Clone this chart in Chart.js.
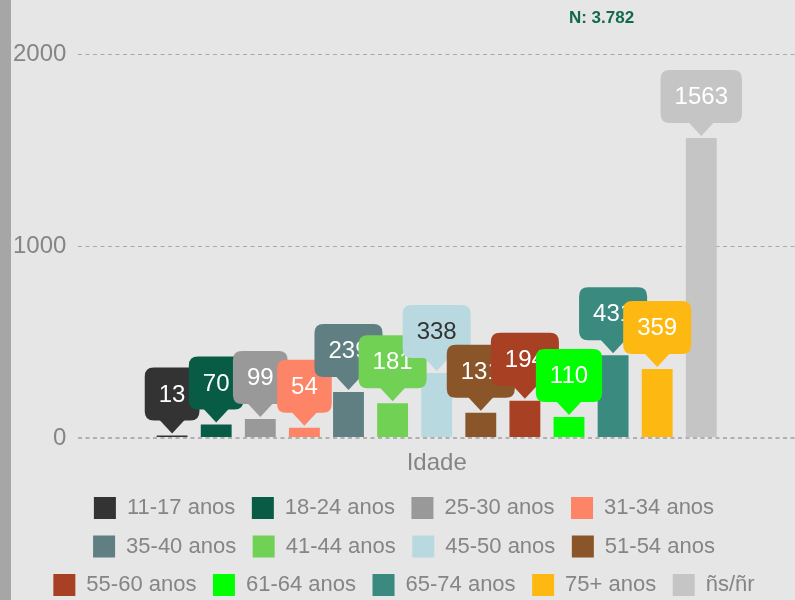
<!DOCTYPE html>
<html>
<head>
<meta charset="utf-8">
<script src="https://cdn.jsdelivr.net/npm/chart.js@4/dist/chart.umd.min.js"></script>
<style>
  html, body { margin: 0; padding: 0; background: #e6e6e6; overflow: hidden; }
  #wrap { position: absolute; left: 0; top: 0; width: 784px; height: 606px; border-left: 11px solid #a6a6a6; }
  canvas { display: block; }
</style>
</head>
<body>
<div id="wrap"><canvas id="c" width="784" height="606"></canvas></div>
<script>
const categories = ['Idade'];
const seriesNames = ['11-17 anos', '18-24 anos', '25-30 anos', '31-34 anos', '35-40 anos', '41-44 anos', '45-50 anos', '51-54 anos', '55-60 anos', '61-64 anos', '65-74 anos', '75+ anos', 'ñs/ñr'];
const seriesValues = [13, 70, 99, 54, 239, 181, 338, 131, 194, 110, 431, 359, 1563];
const yTicks = [0, 1000, 2000];

const colors = ['#333333', '#085c45', '#999999', '#fd8466', '#5f7f83', '#71d154', '#b8d9df', '#8a5529', '#a84124', '#00ff00', '#3a8a80', '#fdb812', '#c5c5c5'];
const labelTextColors = ['#fff', '#fff', '#fff', '#fff', '#fff', '#fff', '#333', '#fff', '#fff', '#fff', '#fff', '#fff', '#fff'];
const FONT = '"Liberation Sans", Arial, sans-serif';

const total = seriesValues.reduce((a, b) => a + b, 0);
const totalText = 'N: ' + String(total).replace(/\B(?=(\d{3})+(?!\d))/g, '.');

const datasets = seriesNames.map((name, i) => ({
  label: name,
  data: [seriesValues[i]],
  backgroundColor: colors[i],
  borderWidth: 0,
  categoryPercentage: 0.8,
  barPercentage: 0.7
}));

function roundRect(ctx, x, y, w, h, r) {
  ctx.beginPath();
  ctx.moveTo(x + r, y);
  ctx.lineTo(x + w - r, y);
  ctx.quadraticCurveTo(x + w, y, x + w, y + r);
  ctx.lineTo(x + w, y + h - r);
  ctx.quadraticCurveTo(x + w, y + h, x + w - r, y + h);
  ctx.lineTo(x + r, y + h);
  ctx.quadraticCurveTo(x, y + h, x, y + h - r);
  ctx.lineTo(x, y + r);
  ctx.quadraticCurveTo(x, y, x + r, y);
  ctx.closePath();
}

const calloutPlugin = {
  id: 'callouts',
  afterDatasetsDraw(chart) {
    const ctx = chart.ctx;
    ctx.save();
    ctx.font = '24px ' + FONT;
    ctx.textAlign = 'center';
    ctx.textBaseline = 'middle';
    chart.data.datasets.forEach((ds, i) => {
      const meta = chart.getDatasetMeta(i);
      const bar = meta.data[0];
      if (!bar) return;
      const txt = String(ds.data[0]);
      const tw = ctx.measureText(txt).width;
      const w = tw + 28, h = 53;
      const tipY = bar.y - 2;
      const boxBottom = bar.y - 15;
      const bx = bar.x - w / 2, by = boxBottom - h;
      ctx.fillStyle = ds.backgroundColor;
      roundRect(ctx, bx, by, w, h, 9);
      ctx.fill();
      ctx.beginPath();
      ctx.moveTo(bar.x - 13, boxBottom - 1);
      ctx.lineTo(bar.x + 13, boxBottom - 1);
      ctx.lineTo(bar.x, tipY);
      ctx.closePath();
      ctx.fill();
      ctx.fillStyle = labelTextColors[i];
      ctx.fillText(txt, bar.x, by + h / 2 + 1);
    });
    ctx.restore();
  }
};

const totalPlugin = {
  id: 'totalText',
  afterDraw(chart) {
    const ctx = chart.ctx;
    const a = chart.chartArea;
    ctx.save();
    ctx.font = 'bold 17px ' + FONT;
    ctx.fillStyle = '#12694d';
    ctx.textAlign = 'center';
    ctx.textBaseline = 'middle';
    ctx.fillText(totalText, a.left + (a.right - a.left) * 0.73, 18);
    ctx.restore();
  }
};

new Chart(document.getElementById('c'), {
  type: 'bar',
  data: { labels: categories, datasets },
  options: {
    responsive: false,
    animation: false,
    layout: { padding: { top: 54, left: 2, right: 0, bottom: 0 } },
    plugins: {
      tooltip: { enabled: false },
      title: { display: false },
      legend: {
        position: 'bottom',
        labels: {
          font: { size: 22, family: FONT },
          color: '#858585',
          boxWidth: 22,
          boxHeight: 22,
          padding: 16.5
        }
      }
    },
    scales: {
      x: {
        grid: { display: false, drawTicks: false },
        border: { display: false },
        ticks: { color: '#858585', font: { size: 24, family: FONT }, padding: 10.6 },
        afterFit(scale) { scale.height = 42.5; }
      },
      y: {
        min: 0,
        max: 2000,
        afterBuildTicks(scale) { scale.ticks = yTicks.map(v => ({ value: v })); },
        afterFit(scale) { scale.width -= scale.options.ticks.padding; },
        grid: {
          drawTicks: false,
          color: (c) => (c.tick && c.tick.value === 0 ? '#b0b0b0' : '#a8a8a8'),
          lineWidth: (c) => (c.tick && c.tick.value === 0 ? 2 : 1)
        },
        border: { display: false, dash: [4, 3.5] },
        ticks: { color: '#858585', font: { size: 24, family: FONT }, padding: 12, callback: (v) => String(v) }
      }
    }
  },
  plugins: [calloutPlugin, totalPlugin]
});
</script>
</body>
</html>
